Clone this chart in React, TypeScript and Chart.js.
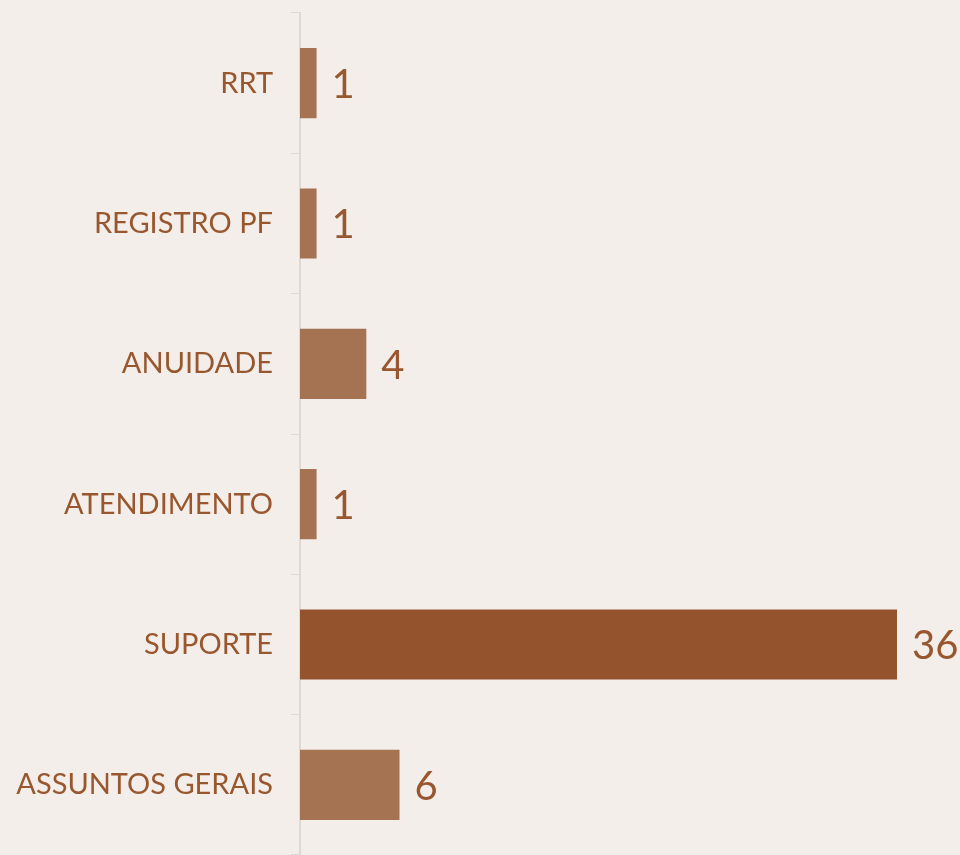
import React, { useEffect, useRef } from "react";
import { Chart, registerables } from "chart.js";

Chart.register(...registerables);

const categories = ["RRT", "REGISTRO PF", "ANUIDADE", "ATENDIMENTO", "SUPORTE", "ASSUNTOS GERAIS"];
const values = [1, 1, 4, 1, 36, 6];
const barColors = ["#A57352", "#A57352", "#A57352", "#A57352", "#94532C", "#A57352"];

const BG = "#F3EEEA";
const TEXT = "#98572F";
const FONT = "Lato, 'Open Sans', sans-serif";

const valueLabels = {
  id: "valueLabels",
  afterDatasetsDraw(chart: any) {
    const ctx = chart.ctx;
    const meta = chart.getDatasetMeta(0);
    ctx.save();
    ctx.fillStyle = TEXT;
    ctx.font = `40px ${FONT}`;
    ctx.textAlign = "left";
    ctx.textBaseline = "middle";
    meta.data.forEach((bar: any, i: number) => {
      const v = chart.data.datasets[0].data[i];
      ctx.fillText(String(v), bar.x + 15, bar.y + 2);
    });
    ctx.restore();
  },
};

const bgPlugin = {
  id: "bg",
  beforeDraw(chart: any) {
    const ctx = chart.ctx;
    ctx.save();
    ctx.fillStyle = BG;
    ctx.fillRect(0, 0, chart.width, chart.height);
    ctx.restore();
  },
};

export default function App() {
  const ref = useRef<HTMLCanvasElement>(null);
  useEffect(() => {
    document.body.style.margin = "0";
    document.body.style.background = BG;
    const chart = new Chart(ref.current!, {
      type: "bar",
      data: {
        labels: categories,
        datasets: [
          {
            data: values,
            backgroundColor: barColors,
            barPercentage: 0.5,
            categoryPercentage: 1,
          },
        ],
      },
      options: {
        indexAxis: "y",
        animation: false,
        responsive: false,
        maintainAspectRatio: false,
        layout: { padding: { top: 13, bottom: 0, left: 0, right: 0 } },
        plugins: { legend: { display: false }, tooltip: { enabled: false } },
        scales: {
          x: { display: false, min: 0, max: 39.8 },
          y: {
            afterFit: (s: any) => {
              s.width = 300;
              s.paddingTop = 0;
              s.paddingBottom = 0;
            },
            grid: {
              drawOnChartArea: false,
              drawTicks: true,
              tickLength: 9,
              color: "#DDD9D6",
              offset: true,
            },
            border: { display: true, color: "#DDD9D6", width: 2 },
            ticks: {
              color: TEXT,
              font: { family: FONT, size: 29 },
              padding: 18,
            },
          },
        },
      },
      plugins: [bgPlugin, valueLabels],
    });
    return () => chart.destroy();
  }, []);
  return <canvas ref={ref} width={960} height={855} style={{ display: "block" }} />;
}
